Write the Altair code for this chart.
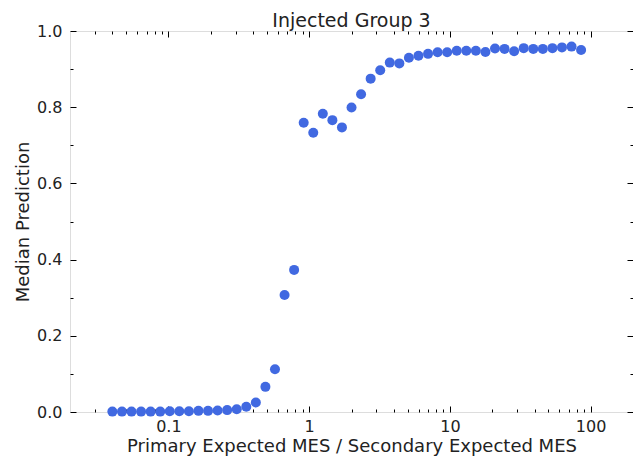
import altair as alt
import pandas as pd

ratio = [0.0400, 0.0468, 0.0547, 0.0640, 0.0748, 0.0875, 0.1023, 0.1196, 0.1399, 0.1636,
         0.1913, 0.2237, 0.2616, 0.3059, 0.3577, 0.4183, 0.4892, 0.5720, 0.6689, 0.7823,
         0.9148, 1.0698, 1.2510, 1.4629, 1.7107, 2.0005, 2.3394, 2.7357, 3.1991, 3.7411,
         4.3748, 5.1159, 5.9826, 6.9961, 8.1812, 9.5671, 11.188, 13.083, 15.299, 17.891,
         20.922, 24.466, 28.611, 33.457, 39.125, 45.753, 53.504, 62.567, 73.166, 85.56]
median_pred = [0.001, 0.001, 0.001, 0.001, 0.001, 0.001, 0.002, 0.002, 0.002, 0.003,
               0.003, 0.004, 0.005, 0.007, 0.014, 0.025, 0.066, 0.112, 0.307, 0.373,
               0.759, 0.733, 0.783, 0.766, 0.747, 0.799, 0.834, 0.875, 0.897, 0.917,
               0.915, 0.930, 0.935, 0.940, 0.944, 0.944, 0.948, 0.948, 0.948, 0.945,
               0.954, 0.953, 0.947, 0.955, 0.953, 0.953, 0.955, 0.957, 0.959, 0.950]

x_major = [0.1, 1, 10, 100]
x_minor = [0.03, 0.04, 0.05, 0.06, 0.07, 0.08, 0.09,
           0.2, 0.3, 0.4, 0.5, 0.6, 0.7, 0.8, 0.9,
           2, 3, 4, 5, 6, 7, 8, 9,
           20, 30, 40, 50, 60, 70, 80, 90]
y_major = [0.0, 0.2, 0.4, 0.6, 0.8, 1.0]
y_minor = [0.1, 0.3, 0.5, 0.7, 0.9]

df = pd.DataFrame({"ratio": ratio, "pred": median_pred})

FONT = "DejaVu Sans"
TXT = "#222222"
xscale = alt.Scale(type="log", domain=[0.02, 200], nice=False)
yscale = alt.Scale(domain=[0, 1], nice=False, zero=False)

def xaxis(values, size, orient="bottom", labels=False, title=None):
    kw = dict(values=values, orient=orient, labels=labels, domain=False, grid=False,
              tickSize={"expr": str(-size)}, tickColor="black", tickWidth=1)
    if labels:
        kw.update(format="~g", labelFont=FONT, labelFontSize=16, labelColor=TXT,
                  labelPadding=12, labelFlush=False)
    if title:
        kw.update(title=title, titleFont=FONT, titleFontSize=18, titleFontWeight="normal",
                  titleColor=TXT, titlePadding=3)
    else:
        kw.update(title=None)
    return alt.Axis(**kw)

def yaxis(values, size, orient="left", labels=False, title=None):
    kw = dict(values=values, orient=orient, labels=labels, domain=False, grid=False,
              tickSize={"expr": str(-size)}, tickColor="black", tickWidth=1)
    if labels:
        kw.update(format=".1f", labelFont=FONT, labelFontSize=16, labelColor=TXT,
                  labelPadding=14, labelFlush=False)
    if title:
        kw.update(title=title, titleFont=FONT, titleFontSize=18, titleFontWeight="normal",
                  titleColor=TXT, titlePadding=4)
    else:
        kw.update(title=None)
    return alt.Axis(**kw)

base = alt.Chart(df)

points = base.mark_circle(size=100, color="#4169E1", opacity=1).encode(
    x=alt.X("ratio:Q", scale=xscale,
            axis=xaxis(x_major, 6, "bottom", True, "Primary Expected MES / Secondary Expected MES")),
    y=alt.Y("pred:Q", scale=yscale,
            axis=yaxis(y_major, 6, "left", True, "Median Prediction")),
)

def ghost(xax, yax):
    return base.mark_circle(opacity=0).encode(
        x=alt.X("ratio:Q", scale=xscale, axis=xax),
        y=alt.Y("pred:Q", scale=yscale, axis=yax),
    )

layers = [
    points,
    ghost(xaxis(x_minor, 3, "bottom"), None),
    ghost(xaxis(x_major, 6, "top"), None),
    ghost(xaxis(x_minor, 3, "top"), None),
    ghost(None, yaxis(y_minor, 3, "left")),
    ghost(None, yaxis(y_major, 6, "right")),
    ghost(None, yaxis(y_minor, 3, "right")),
]

chart = alt.layer(*layers).resolve_axis(x="independent", y="independent").properties(
    width=563, height=381,
    autosize=alt.AutoSizeParams(type="none"),
    padding={"left": 62, "top": 23, "right": 0, "bottom": 44},
    title=alt.TitleParams("Injected Group 3", font=FONT, fontSize=19, fontWeight="normal",
                          color=TXT, anchor="middle", frame="group", offset=-23,
                          baseline="alphabetic"),
).configure_view(stroke="black", strokeWidth=1).configure(background="white")

chart.save("out.html", embed_options={"renderer": "svg", "actions": False})
